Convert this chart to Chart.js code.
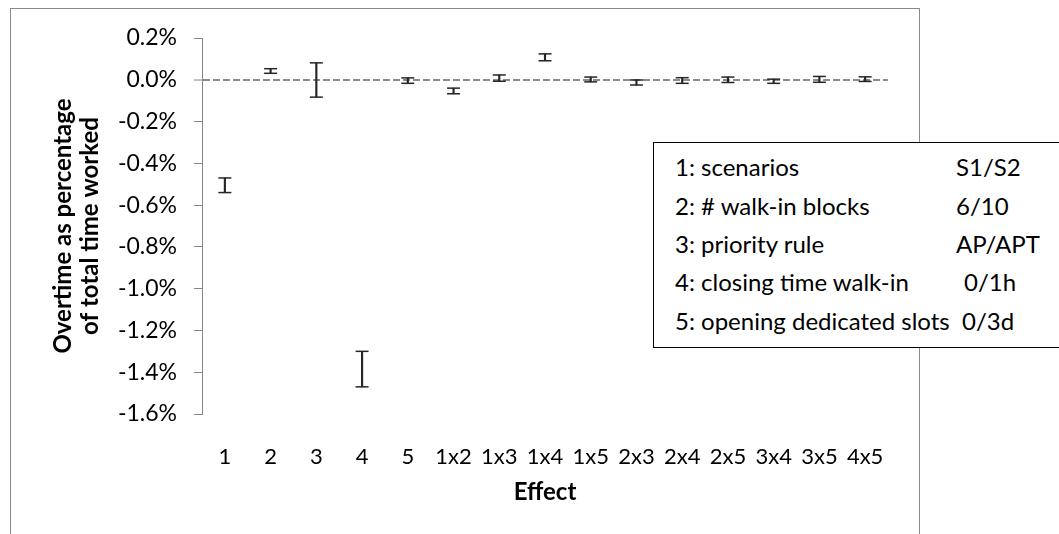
<!DOCTYPE html>
<html>
<head>
<meta charset="utf-8">
<script src="https://cdn.jsdelivr.net/npm/chart.js@4"></script>
<style>
  html, body { margin: 0; padding: 0; background: #fff; }
  #wrap { position: relative; width: 1059px; height: 534px; overflow: hidden; }
  #frame { position: absolute; left: 10px; top: 8px; width: 910px; height: 600px; border: 1.5px solid #8a8a8a; box-sizing: border-box; }
  canvas { position: absolute; left: 0; top: 0; }
  #leg { position: absolute; left: 653px; top: 142px; width: 420px; height: 206px; border: 1.5px solid #000; background: #fff; box-sizing: border-box;
         font-family: Lato, "Open Sans", sans-serif; font-size: 24px; color: #000; }
  #leg div { position: absolute; white-space: pre; line-height: 28px; }
</style>
</head>
<body>
<div id="wrap">
  <div id="frame"></div>
  <canvas id="c" width="1059" height="534"></canvas>
  <div id="leg"></div>
</div>
<script>
const categories = ['1','2','3','4','5','1x2','1x3','1x4','1x5','2x3','2x4','2x5','3x4','3x5','4x5'];
const upperValues = [-0.47, 0.053, 0.081, -1.30, 0.009, -0.040, 0.023, 0.124, 0.013, -0.001, 0.010, 0.013, 0.003, 0.016, 0.014];
const lowerValues = [-0.54, 0.031, -0.083, -1.47, -0.017, -0.067, -0.007, 0.091, -0.010, -0.025, -0.017, -0.013, -0.017, -0.012, -0.008];
const yMin = -1.6, yMax = 0.2, yStep = 0.2;
const yTitle = ['Overtime as percentage', 'of total time worked'];
const xTitle = 'Effect';
const legendNames = ['1: scenarios', '2: # walk-in blocks', '3: priority rule', '4: closing time walk-in', '5: opening dedicated slots'];
const legendLevels = ['S1/S2', '6/10', 'AP/APT', '0/1h', '0/3d'];

// legend box (text)
const leg = document.getElementById('leg');
const lineTops = [10, 49, 87, 125, 164];
const levelLefts = [302, 302, 302, 310, 308];
legendNames.forEach((n, i) => {
  const a = document.createElement('div');
  a.textContent = n; a.style.left = '21px'; a.style.top = lineTops[i] + 'px';
  leg.appendChild(a);
  const b = document.createElement('div');
  b.textContent = legendLevels[i]; b.style.left = levelLefts[i] + 'px'; b.style.top = lineTops[i] + 'px';
  leg.appendChild(b);
});

const FONT = 'Lato, "Open Sans", sans-serif';
const barColor = '#262626';
const axisColor = '#868686';
const isZero = (c) => c.tick && Math.abs(c.tick.value) < 1e-9;

new Chart(document.getElementById('c'), {
  data: {
    labels: categories,
    datasets: [
      { type: 'bar', data: lowerValues.map((l, i) => [l, upperValues[i]]), backgroundColor: barColor, borderWidth: 0, barThickness: 1.5, order: 2 },
      { type: 'line', data: upperValues, showLine: false, pointStyle: 'line', pointRadius: 6.5, pointHoverRadius: 6.5, pointBorderWidth: 1.5, pointBorderColor: barColor, borderColor: barColor, order: 1 },
      { type: 'line', data: lowerValues, showLine: false, pointStyle: 'line', pointRadius: 6.5, pointHoverRadius: 6.5, pointBorderWidth: 1.5, pointBorderColor: barColor, borderColor: barColor, order: 1 }
    ]
  },
  options: {
    responsive: false,
    animation: false,
    events: [],
    layout: { padding: { left: 0, top: 38, right: 171, bottom: 0 } },
    plugins: { legend: { display: false }, tooltip: { enabled: false } },
    scales: {
      x: {
        offset: true,
        grid: { display: false },
        border: { display: false },
        ticks: { color: '#000', font: { family: FONT, size: 22 }, padding: 22, maxRotation: 0, autoSkip: false },
        title: { display: true, text: xTitle, color: '#000', font: { family: FONT, size: 24, weight: 'bold' }, padding: { top: 0, bottom: 27 } },
        afterFit: (s) => { s.height = 120; }
      },
      y: {
        min: yMin, max: yMax,
        ticks: { stepSize: yStep, color: '#000', font: { family: FONT, size: 23 }, padding: 17,
                 callback: (v) => (Math.abs(v) < 1e-9 ? 0 : v).toFixed(1) + '%' },
        grid: {
          drawOnChartArea: true,
          color: (c) => isZero(c) ? '#8c8c8c' : 'rgba(0,0,0,0)',
          lineWidth: (c) => isZero(c) ? 2 : 1,
          tickColor: axisColor, tickWidth: 1, tickLength: 8
        },
        border: { display: true, color: axisColor, width: 1, dash: [7, 3] },
        title: { display: true, text: yTitle, color: '#000', font: { family: FONT, size: 24, weight: 'bold', lineHeight: 1.15 }, padding: { top: 49, bottom: 0 } },
        afterFit: (s) => { s.width = 202; }
      }
    }
  }
});
</script>
</body>
</html>
